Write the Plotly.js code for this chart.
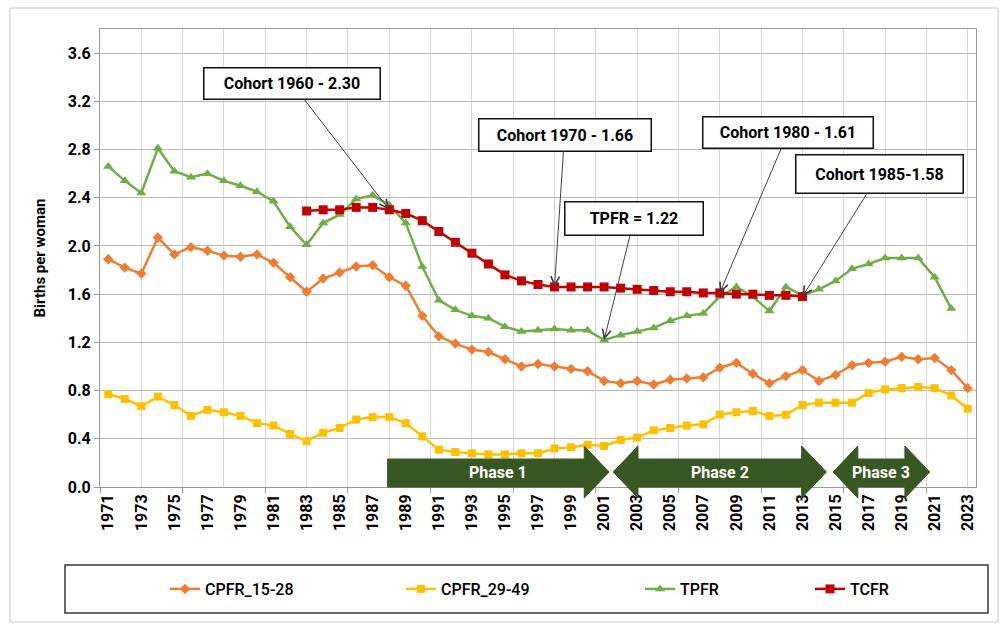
<!DOCTYPE html>
<html>
<head>
<meta charset="utf-8">
<script src="https://cdn.plot.ly/plotly-3.0.1.min.js"></script>
<style>html,body{margin:0;padding:0;background:#fff;}#chart{width:1008px;height:628px;}</style>
</head>
<body>
<div id="chart"></div>
<script>
const years = [1971,1972,1973,1974,1975,1976,1977,1978,1979,1980,1981,1982,1983,1984,1985,1986,1987,1988,1989,1990,1991,1992,1993,1994,1995,1996,1997,1998,1999,2000,2001,2002,2003,2004,2005,2006,2007,2008,2009,2010,2011,2012,2013,2014,2015,2016,2017,2018,2019,2020,2021,2022,2023];
const cpfr1528 = [1.89,1.82,1.77,2.07,1.93,1.99,1.96,1.92,1.91,1.93,1.86,1.74,1.62,1.73,1.78,1.83,1.84,1.74,1.67,1.42,1.25,1.19,1.14,1.12,1.06,1.00,1.02,1.00,0.98,0.96,0.88,0.86,0.88,0.85,0.89,0.90,0.91,0.99,1.03,0.94,0.86,0.92,0.97,0.88,0.93,1.01,1.03,1.04,1.08,1.06,1.07,0.97,0.82];
const cpfr2949 = [0.77,0.73,0.67,0.75,0.68,0.59,0.64,0.62,0.59,0.53,0.51,0.44,0.38,0.45,0.49,0.56,0.58,0.58,0.53,0.42,0.31,0.29,0.28,0.27,0.27,0.28,0.28,0.32,0.33,0.35,0.34,0.39,0.41,0.47,0.49,0.51,0.52,0.60,0.62,0.63,0.59,0.60,0.68,0.70,0.70,0.70,0.78,0.81,0.82,0.83,0.82,0.76,0.65];
const tpfr = [2.66,2.54,2.44,2.81,2.62,2.57,2.60,2.54,2.50,2.45,2.37,2.16,2.01,2.19,2.26,2.39,2.42,2.34,2.19,1.83,1.55,1.47,1.42,1.40,1.33,1.29,1.30,1.31,1.30,1.30,1.22,1.26,1.29,1.32,1.38,1.42,1.44,1.58,1.66,1.58,1.46,1.66,1.59,1.64,1.71,1.81,1.85,1.90,1.90,1.90,1.74,1.48,null];
const tcfr = [null,null,null,null,null,null,null,null,null,null,null,null,2.29,2.30,2.30,2.32,2.32,2.30,2.27,2.21,2.12,2.03,1.94,1.85,1.76,1.71,1.68,1.66,1.66,1.66,1.66,1.65,1.64,1.63,1.62,1.62,1.61,1.61,1.60,1.60,1.59,1.59,1.58,null,null,null,null,null,null,null,null,null,null];
const seriesNames = ['CPFR_15-28','CPFR_29-49','TPFR','TCFR'];
const tickYears = [1971,1973,1975,1977,1979,1981,1983,1985,1987,1989,1991,1993,1995,1997,1999,2001,2003,2005,2007,2009,2011,2013,2015,2017,2019,2021,2023];
const tickLabels = tickYears.map(String);
const calloutTexts = ['Cohort 1960 - 2.30','Cohort 1970 - 1.66','TPFR = 1.22','Cohort 1980 - 1.61','Cohort 1985-1.58'];
const calloutYears = [1988,1998,2001,2008,2013];
const calloutSeries = ['TCFR','TCFR','TPFR','TCFR','TCFR'];
const phaseLabels = ['Phase 1','Phase 2','Phase 3'];
const phaseStart = [1987.9,2001.55,2014.85];
const phaseEnd = [2001.3,2014.45,2020.7];
const phaseDouble = [false,true,true];

const FONT = 'Roboto, "Open Sans", sans-serif';
const XMIN = 1970.5, XMAX = 2023.5, YMAX = 3.8;
const seriesData = {'CPFR_15-28':cpfr1528,'CPFR_29-49':cpfr2949,'TPFR':tpfr,'TCFR':tcfr};
const colors = ['#ED7D31','#FFC000','#70AD47','#C00000'];
const symbols = ['diamond','square','triangle-up','square'];
const sizes = [8,8,9,9];
const legendIds = ['legend','legend2','legend3','legend4'];

const traces = seriesNames.map((n,i)=>({
  type:'scatter', mode:'lines+markers', name:n, x:years, y:seriesData[n],
  line:{color:colors[i], width:2.5}, marker:{color:colors[i], symbol:symbols[i], size:sizes[i], line:{width:0}},
  connectgaps:false, legend:legendIds[i], xaxis:'x', yaxis:'y'
}));
traces.push({type:'scatter', x:[], y:[], xaxis:'x2', yaxis:'y', showlegend:false, hoverinfo:'skip'});

// layout helpers (paper coordinates)
const L=100, R=976, T=29, B=487;
const pxX = px => (px-L)/(R-L);
const pxY = py => (B-py)/(B-T);
const yrX = yr => (yr-XMIN)/(XMAX-XMIN);

const shapes = [];
shapes.push({type:'rect', xref:'paper', yref:'paper', x0:pxX(10), x1:pxX(998), y0:pxY(622), y1:pxY(8), line:{color:'#c8c8c8', width:1}, fillcolor:'rgba(0,0,0,0)', layer:'below'});
shapes.push({type:'rect', xref:'paper', yref:'paper', x0:pxX(65), x1:pxX(988), y0:pxY(613), y1:pxY(565), line:{color:'#3a3a3a', width:1.5}, fillcolor:'rgba(0,0,0,0)'});

const hTop=pxY(446), bTop=pxY(459), mid=pxY(472), bBot=pxY(487), hBot=pxY(498);
const headLen = 1.5;
const annotations = [];
phaseLabels.forEach((lab,i)=>{
  const x0=yrX(phaseStart[i]), x1=yrX(phaseEnd[i]);
  const xrb=yrX(phaseEnd[i]-headLen);
  let p;
  if(phaseDouble[i]){
    const xlb=yrX(phaseStart[i]+headLen);
    p=`M${x0},${mid} L${xlb},${hTop} L${xlb},${bTop} L${xrb},${bTop} L${xrb},${hTop} L${x1},${mid} L${xrb},${hBot} L${xrb},${bBot} L${xlb},${bBot} L${xlb},${hBot} Z`;
  } else {
    p=`M${x0},${bTop} L${xrb},${bTop} L${xrb},${hTop} L${x1},${mid} L${xrb},${hBot} L${xrb},${bBot} L${x0},${bBot} Z`;
  }
  shapes.push({type:'path', xref:'paper', yref:'paper', path:p, fillcolor:'#385723', line:{color:'#385723', width:1}, layer:'above'});
  annotations.push({xref:'paper', yref:'paper', x:yrX((phaseStart[i]+phaseEnd[i])/2), y:mid, text:lab, showarrow:false,
    font:{family:FONT, size:16, color:'#ffffff', weight:'bold'}, xanchor:'center', yanchor:'middle'});
});

const boxW = [178,174,140,172,169];
const boxH = [33,34,35,33,40];
const offX = [-97,10,30,68,77];
const offY = [-126,-152,-121,-160,-123];
calloutTexts.forEach((t,i)=>{
  const idx = years.indexOf(calloutYears[i]);
  annotations.push({x:calloutYears[i], y:seriesData[calloutSeries[i]][idx], xref:'x', yref:'y',
    text:t, showarrow:true, ax:offX[i], ay:offY[i], arrowhead:5, arrowsize:1.7, arrowwidth:1, arrowcolor:'#404040',
    bgcolor:'#ffffff', bordercolor:'#111111', borderwidth:1.5, borderpad:2,
    width:boxW[i]-7, height:boxH[i]-7,
    font:{family:FONT, size:16, color:'#000', weight:'bold'}});
});

const legendX = [165,401,640,810];
const legendCommon = {orientation:'h', yanchor:'middle', xanchor:'left', y:pxY(589), bgcolor:'rgba(0,0,0,0)', borderwidth:0,
  font:{family:FONT, size:16, color:'#000', weight:500}, itemwidth:30};

const layout = {
  width:1008, height:628,
  margin:{l:L, r:1008-R, t:T, b:628-B},
  paper_bgcolor:'#ffffff', plot_bgcolor:'#ffffff',
  showlegend:true,
  legend:Object.assign({}, legendCommon, {x:pxX(legendX[0])}),
  legend2:Object.assign({}, legendCommon, {x:pxX(legendX[1])}),
  legend3:Object.assign({}, legendCommon, {x:pxX(legendX[2])}),
  legend4:Object.assign({}, legendCommon, {x:pxX(legendX[3])}),
  xaxis:{range:[XMIN,XMAX], tickmode:'array', tickvals:tickYears, ticktext:tickLabels, tickangle:-90,
    showgrid:false, zeroline:false, ticks:'', showline:true, mirror:true, linecolor:'#9a9a9a', linewidth:1,
    tickfont:{family:FONT, size:16, color:'#000', weight:'bold'}, fixedrange:true},
  xaxis2:{range:[XMIN,XMAX], overlaying:'x', anchor:'y', tickmode:'linear', tick0:XMIN, dtick:5,
    showticklabels:false, ticks:'outside', ticklen:5, tickcolor:'#9a9a9a', showgrid:true, gridcolor:'#d6d6d6', gridwidth:1,
    minor:{tickmode:'linear', tick0:XMIN, dtick:2.5, showgrid:true, gridcolor:'#d6d6d6', ticks:''}, zeroline:false, showline:false},
  yaxis:{range:[0,YMAX], tickmode:'linear', tick0:0, dtick:0.4, tickformat:'.1f', showgrid:true, gridcolor:'#b8b8b8', gridwidth:1,
    zeroline:false, showline:true, mirror:true, linecolor:'#9a9a9a', linewidth:1, ticks:'outside', ticklen:5, tickcolor:'#9a9a9a',
    tickfont:{family:FONT, size:16, color:'#000', weight:'bold'},
    title:{text:'Births per woman', font:{family:FONT, size:15, color:'#000', weight:'bold'}, standoff:18}, fixedrange:true},
  shapes:shapes, annotations:annotations
};
Plotly.newPlot('chart', traces, layout, {staticPlot:true, displayModeBar:false});
</script>
</body>
</html>
